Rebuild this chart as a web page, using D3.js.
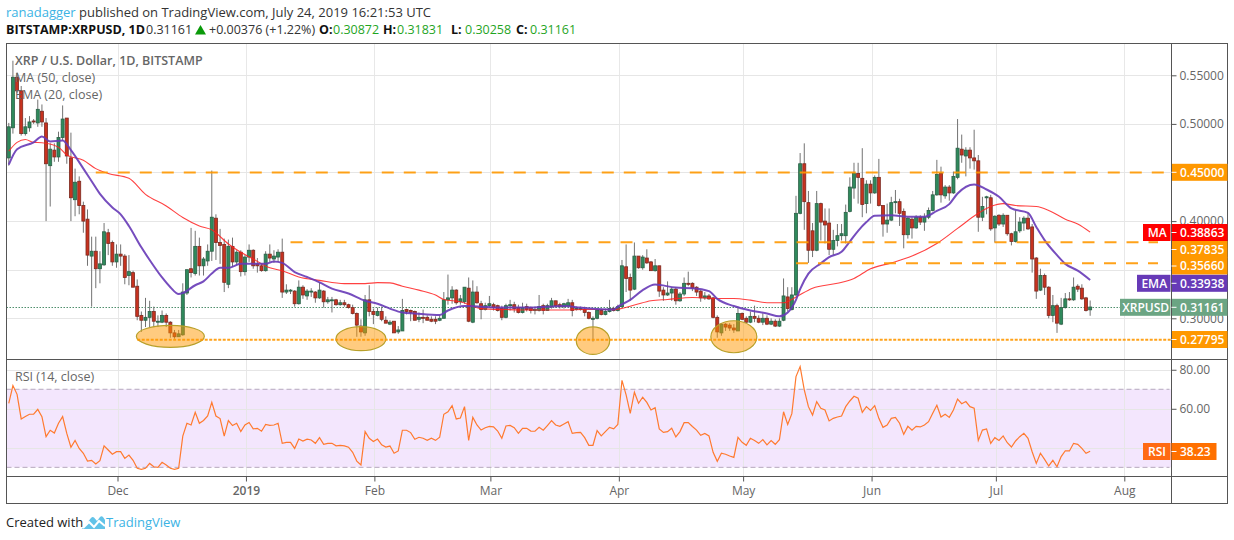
<!DOCTYPE html>
<html><head><meta charset="utf-8">
<script src="https://cdn.jsdelivr.net/npm/d3@7"></script>
<style>html,body{margin:0;padding:0;background:#fff;overflow:hidden}svg{display:block}text{font-family:"Open Sans",sans-serif}</style>
</head><body><svg id="c" width="1234" height="540"></svg>
<script>
// Daily candles from 5 Nov 2018, prices in thousandths of a dollar
const firstDay = "2018-11-05";
const opens = [465,496,548,534,490,496,503,501,513,501,457,473,466,486,506,465,422,441,416,402,
364,369,351,355,388,378,358,366,364,344,347,333,303,298,301,307,297,296,303,296,
285,281,283,326,351,346,374,354,359,369,403,378,376,335,374,358,368,348,363,370,
356,354,349,366,361,363,368,327,329,328,315,332,323,328,327,321,328,317,319,319,
314,316,314,311,305,292,285,319,307,303,307,298,294,297,286,287,309,308,307,299,
301,301,299,299,298,300,319,321,329,317,317,331,296,327,315,309,313,314,313,310,
301,313,314,311,306,312,311,309,308,313,308,312,318,314,312,313,316,310,310,309,
306,300,300,308,304,307,310,308,312,353,342,330,364,352,362,358,349,354,329,324,
326,330,318,325,336,336,332,328,321,323,321,301,285,294,293,290,287,305,300,296,
302,300,296,300,294,297,292,298,322,309,324,408,459,419,390,370,418,400,398,371,
380,385,385,410,434,449,444,418,438,429,445,416,397,401,420,420,410,386,402,393,
404,399,404,411,427,449,426,435,429,445,474,467,473,465,462,404,424,424,393,406,
397,406,387,379,390,398,403,394,362,329,344,332,303,313,294,311,320,319,333,331,
321,308.72];
const highs = [501,565,553,539,506,508,505,525,520,506,480,480,492,519,506,491,454,446,420,412,
384,384,369,398,392,380,376,376,366,365,349,340,307,321,318,312,303,308,305,297,
288,288,336,350,393,390,383,363,376,452,407,392,382,381,383,370,370,365,376,371,
362,356,369,376,370,371,382,335,330,329,339,334,330,331,328,337,329,322,322,320,
319,319,315,314,306,299,324,334,310,311,312,302,298,297,292,320,310,309,308,306,
309,303,302,302,303,327,345,333,330,324,332,342,339,333,318,316,323,316,314,313,
315,319,317,314,316,315,312,312,324,315,315,321,318,316,316,320,319,312,312,312,
307,302,310,310,310,319,312,314,360,376,346,378,364,365,371,359,361,354,332,338,
332,332,327,342,348,337,333,329,327,325,322,303,295,295,295,294,312,306,302,307,
313,303,305,303,300,299,300,341,332,332,426,470,480,431,398,431,419,413,413,391,
397,397,417,445,460,460,475,442,442,447,464,416,418,425,432,423,413,404,404,406,
406,408,414,431,463,456,437,437,451,505,489,476,476,494,468,425,426,427,406,407,
408,406,388,411,404,405,408,397,363,351,346,333,324,315,321,326,327,342,335,335,
322,318.31];
const lows = [457,490,532,488,488,492,500,497,497,400,415,461,461,483,459,400,405,407,388,354,
312,331,336,354,365,354,352,354,335,334,332,298,286,291,291,291,291,295,291,280,
279,281,282,324,342,344,344,344,354,359,360,356,327,331,353,355,343,344,358,351,
347,348,348,358,357,358,321,325,325,312,314,320,319,322,316,320,311,315,306,313,
313,312,310,304,281,281,282,302,294,302,297,295,293,285,284,287,304,297,298,296,
295,298,296,294,297,300,314,315,314,314,315,296,295,315,299,308,311,308,307,298,
300,308,306,305,305,307,305,304,307,304,308,310,311,310,310,312,302,308,308,302,
299,276,299,303,303,306,307,307,312,327,318,329,351,350,356,349,348,322,318,323,
318,314,317,323,333,328,323,317,319,319,300,280,282,287,287,285,287,298,295,295,
296,295,293,293,293,291,291,297,307,308,323,407,391,357,363,369,380,377,365,365,
374,380,377,409,423,418,404,408,418,428,415,384,388,400,408,395,372,382,382,392,
396,390,402,410,426,419,423,421,428,443,460,446,454,453,389,400,407,390,378,395,
394,385,375,378,388,390,391,347,320,328,324,300,296,285,293,310,318,318,327,319,
307,302.58];
const closes = [497,548,534,490,497,502,502,515,502,459,474,466,486,505,467,424,440,416,400,365,
369,351,356,389,377,358,366,364,342,348,332,302,298,301,307,297,297,303,296,285,
281,284,327,350,347,374,354,361,369,404,378,375,337,374,358,368,348,363,370,354,
354,349,366,362,364,368,327,329,329,315,332,324,328,328,321,329,317,319,319,314,
316,314,311,305,293,286,319,307,304,307,299,295,296,285,288,308,307,306,298,301,
300,298,297,297,300,319,321,329,316,320,332,297,327,316,309,313,315,311,308,301,
313,314,310,306,311,309,308,309,312,308,313,318,313,312,315,316,308,310,310,306,
300,300,308,304,307,310,308,312,354,341,329,364,352,363,357,349,354,328,324,326,
330,318,325,336,335,331,327,321,323,320,301,286,294,291,290,288,305,299,296,302,
300,296,300,294,297,292,297,323,310,324,408,459,420,370,370,418,399,396,371,380,
385,387,409,435,449,445,417,438,429,445,416,397,401,419,420,408,386,403,393,404,
399,404,411,427,448,427,435,429,446,475,468,473,465,462,404,415,425,392,405,397,
406,387,379,389,399,403,392,361,328,344,332,303,313,295,311,320,319,332,330,320,
308,311.61];

// Moving averages read at chosen candles
const emaDays = [0,2,6,8,10,13,15,18,20,22,25,27,29,32,34,37,39,41,42,45,47,49,51,53,56,59,62,64,66,69,72,75,78,82,86,89,92,95,98,104,106,110,114,118,126,134,138,146,147,150,153,156,161,165,169,171,175,179,183,186,188,190,191,193,196,198,201,203,205,207,209,213,217,221,224,227,229,233,236,239,242,246,248,250,253,255,258,261];
const emaVals = [458,474,481,487,482,483,473,454,441,428,414,407,395,373,360,342,332,325,326,334,338,346,352,352,356,356,356,358.5,357,347.6,342.5,337,330.6,325.5,318,315,310,306,305,303.4,308,312.6,312,311,311,312.6,311,309,312,319,329,334.7,331.6,331,328,320,312.6,308,305,302,306,319,330,346,356.5,363,368.5,379,390,399,405.5,406,404.5,404.5,410.6,417.5,428.4,437.7,432.5,425,413,408.5,394,380.5,365,356,349,339.38];
const maDays = [0,2,4,6,8,12,14,18,21,24,29,33,38,42,46,49,53,56,59,63,66,70,75,81,86,89,92,95,99,103,105,109,114,120,126,134,139,146,151,155,159,165,171,175,179,183,187,190,194,200,204,208,213,218,224,229,234,237,240,243,248,251,255,258,261];
const maVals = [472,481,484,481,480.6,476,468,462.6,454,449,444,427.5,415.6,403.7,395,391,376.5,368,361,352,349,342.5,339,335.7,335.7,336.7,336.4,333,329,324,319.4,317,310,309,308.5,308.5,309,309,313.6,318,319.4,321.4,320.4,320.4,318.7,316,316,322,331,336,341,351,357,364,377,392.5,408,415,418,416,415,411,402,397,388.63];

// RSI (14, close), one reading per candle
const rsiVals = [62.8,71.9,67.4,54.8,56,57.2,57.2,59.7,56,45.7,49,47.6,52.6,56,47.4,40.3,43.8,39.7,37.2,33.2,
33.6,31.7,33.4,41,38.9,36.7,38,38,34.6,36.3,33.6,29.5,29,29.5,32,30.3,30,32.6,31.2,29.5,
29,29.5,46,52.6,51.7,58.2,52.6,54,56.3,63.3,56.3,55,46,54,51.4,52.6,48.3,51.7,53,49.7,
50,48.5,52,51.5,51.7,52.6,42.3,42.8,42.8,39.7,44.5,43.5,44.4,44,42.3,45.2,41.8,42.3,42.3,41,
41.3,41,40.3,37.7,33.2,31.2,48.3,44.9,43.2,44.5,41.5,40.4,40.9,37.2,38.4,49,49,47.8,44.4,45.4,
44.9,43.8,44.9,43.8,45.4,57.2,58.5,61.6,54.8,55.3,61.1,43.8,55.6,51.7,49.1,50.3,51,50.7,48.6,44.9,
51.2,51.5,50.3,47.4,50,50,48.6,48.5,50.5,49,51.4,53.9,51.7,51,52.2,53.4,47.4,47.8,47.9,45.2,
41.3,41.3,48.8,46.1,48.3,50.5,49.7,52,74.6,67.1,57.7,68.5,62.8,65.9,63.3,59.4,60.6,49.7,47.9,48.3,
50,45.6,48.3,52.9,52.9,50.9,49.1,46.4,47.4,46.1,37.7,33.1,37.2,36.7,35.8,35.1,45.4,42.8,41.3,44.9,
43.8,42.3,44.2,41.5,43.7,41.8,44.2,58.5,52,57.5,76.5,81.6,69.7,61.1,56.8,63.7,60.3,59.4,53.8,55.1,
55.8,56.3,61.1,64,66.4,65.4,58.2,61.1,59.2,61.6,55.1,50.5,51.7,55.1,55.6,52.6,46.9,51,49,51,
50.7,51.7,53.4,57.7,61.8,55.8,57.2,55.6,59.4,65,62.6,63.7,61.1,60.3,43.8,49.1,49.7,42.3,45.2,43.8,
46.1,42.6,40.4,43.5,45.7,47.4,44.9,38,32,37.2,34.1,30.7,33.6,30.3,35.5,38.5,38.4,42.3,41.8,39.7,
37.2,38.23];

// Horizontal levels drawn on the chart
const levelVals = [0.45,0.37835,0.3566,0.27795];
const levelLabels = ["0.45000","0.37835","0.35660","0.27795"];
const levelStartDays = [21,68,190,31];
// Highlighted lows (candle, price)
const markDays = [39,85,141,175];
const markPrices = [0.2815,0.2790,0.2770,0.2810];

const priceTicks = [0.55,0.5,0.45,0.4,0.35,0.3];
const rsiTicks = [80,60];
const monthTicks = ["2018-12-01","2019-01-01","2019-02-01","2019-03-01","2019-04-01","2019-05-01","2019-06-01","2019-07-01","2019-08-01"];
const monthLabels = ["Dec","2019","Feb","Mar","Apr","May","Jun","Jul","Aug"];

const svg = d3.select("#c");
const L=6.5,R=1171.5,FR=1227.5,T=43.5,PB=359.5,RB=476.5,FB=503.5;
const x = d3.scaleUtc().domain([new Date("2018-12-01"),new Date("2019-08-01")]).range([116.5,1123.3]);
const y = d3.scaleLinear().domain([0.2571,0.5822]).range([360,44]);
const yr = d3.scaleLinear().domain([25.2,85]).range([476.7,360]);
const day = i => new Date(Date.parse(firstDay)+i*864e5);
const xi = i => x(day(i));
const GRID="#e6e6e6", AX="#555", TXT="#666";

const defs = svg.append("defs");
defs.append("clipPath").attr("id","cp").append("rect").attr("x",L).attr("y",T).attr("width",R-L).attr("height",PB-T);
defs.append("clipPath").attr("id","cr").append("rect").attr("x",L).attr("y",PB).attr("width",R-L).attr("height",RB-PB);

// header
const t1 = svg.append("text").attr("x",6).attr("y",17).attr("font-size",13);
t1.append("tspan").attr("fill","#3bb3e4").text("ranadagger");
t1.append("tspan").attr("fill","#333").text(" published on TradingView.com, July 24, 2019 16:21:53 UTC");
const HG="#1fa51f";
const hdr = (xp,s,fill,w)=>svg.append("text").attr("x",xp).attr("y",34).attr("font-size",12.5).attr("fill",fill).attr("font-weight",w||400).text(s);
hdr(6,"BITSTAMP:XRPUSD, 1D","#111",700);
hdr(146,"0.31161","#333");
svg.append("path").attr("d","M195 34.5L200.5 25L206 34.5Z").attr("fill","#0a9a0a");
hdr(209,"+0.00376 (+1.22%)","#333");
[[319,"O:","0.30872"],[383,"H:","0.31831"],[451,"L:","0.30258"],[516,"C:","0.31161"]].forEach(d=>{
  hdr(d[0],d[1],"#111",700); hdr(d[0]+14,d[2],HG);
});

// grids
const g = svg.append("g");
const hgrid=(vals,sc)=>g.selectAll(null).data(vals).enter().append("line").attr("x1",L).attr("x2",R).attr("y1",d=>Math.round(sc(d))+.5).attr("y2",d=>Math.round(sc(d))+.5).attr("stroke",GRID).attr("stroke-width",1);
hgrid(priceTicks,y);
// RSI band
g.append("rect").attr("x",L).attr("width",R-L).attr("y",yr(70)).attr("height",yr(30)-yr(70)).attr("fill","#f3e6fd");
hgrid(rsiTicks.concat([40]),yr);
g.selectAll(null).data(monthTicks).enter().append("line").attr("x1",d=>Math.round(x(new Date(d))+1)+.5).attr("x2",d=>Math.round(x(new Date(d))+1)+.5).attr("y1",T).attr("y2",RB).attr("stroke",GRID).attr("stroke-opacity",.9);
g.selectAll(null).data([70,30]).enter().append("line").attr("x1",L).attr("x2",R-2).attr("y1",d=>yr(d)).attr("y2",d=>yr(d)).attr("stroke","#b5a8bd").attr("stroke-width",1).attr("stroke-dasharray","5 3");

// last price dotted
const last = closes[closes.length-1]/1000;
svg.append("line").attr("x1",L).attr("x2",1120).attr("y1",Math.round(y(last))+.5).attr("y2",Math.round(y(last))+.5).attr("stroke","#4f8f6d").attr("stroke-dasharray","1.5 1.5");

// candles
const pane = svg.append("g").attr("clip-path","url(#cp)");
const idx = d3.range(closes.length);
pane.selectAll(".w").data(idx).enter().append("line").attr("x1",xi).attr("x2",xi).attr("y1",i=>y(highs[i]/1000)).attr("y2",i=>y(lows[i]/1000)).attr("stroke","#737373").attr("stroke-width",1);
pane.selectAll(".b").data(idx).enter().append("rect")
 .attr("x",i=>xi(i)-1.5).attr("width",3)
 .attr("y",i=>y(Math.max(opens[i],closes[i])/1000))
 .attr("height",i=>Math.max(1,Math.abs(y(opens[i]/1000)-y(closes[i]/1000))))
 .attr("fill",i=>closes[i]>=opens[i]?"#2f8a5c":"#c8321f")
 .attr("stroke",i=>closes[i]>=opens[i]?"#2a5f46":"#7a2a20").attr("stroke-width",.8);

// MA / EMA
const line = d3.line().curve(d3.curveMonotoneX);
pane.append("path").attr("d",line(maDays.map((d,i)=>[xi(d),y(maVals[i]/1000)]))).attr("fill","none").attr("stroke","#ff2020").attr("stroke-opacity",.85).attr("stroke-width",1.1);
pane.append("path").attr("d",line(emaDays.map((d,i)=>[xi(d),y(emaVals[i]/1000)]))).attr("fill","none").attr("stroke","#673ab7").attr("stroke-opacity",.9).attr("stroke-width",2);

// ellipses
const ellipseRx=[34,25,16.7,23], ellipseRy=[11,12,13.7,16];
pane.selectAll(".e").data(markDays).enter().append("ellipse")
 .attr("cx",d=>xi(d)).attr("cy",(d,i)=>y(markPrices[i])).attr("rx",(d,i)=>ellipseRx[i]).attr("ry",(d,i)=>ellipseRy[i])
 .attr("fill","#ff9800").attr("fill-opacity",.5).attr("stroke","#b8a02a").attr("stroke-width",1.2);

// levels
levelVals.forEach((v,i)=>{
  const end = i==1||i==2 ? 1158 : R;
  pane.append("line").attr("x1",xi(levelStartDays[i])).attr("x2",end).attr("y1",y(v)).attr("y2",y(v))
   .attr("stroke","#ff9800").attr("stroke-opacity",.9).attr("stroke-width",2).attr("stroke-dasharray",i==3?"3 1.5":"12 10");
});

// RSI line
svg.append("g").attr("clip-path","url(#cr)").append("path")
 .attr("d",d3.line()(rsiVals.map((v,i)=>[xi(i),yr(v)]))).attr("fill","none").attr("stroke","#ff7a2f").attr("stroke-width",1.2);

// frames
const fr=(x1,y1,x2,y2)=>svg.append("line").attr("x1",x1).attr("y1",y1).attr("x2",x2).attr("y2",y2).attr("stroke",AX).attr("stroke-width",1);
svg.append("rect").attr("x",L).attr("y",T).attr("width",FR-L).attr("height",FB-T).attr("fill","none").attr("stroke",AX);
fr(L,PB,FR,PB); fr(L,RB,FR,RB); fr(R,T,R,FB);

// axes
const styleAxis = s=>{s.select(".domain").remove();s.selectAll("line").attr("stroke",AX);s.selectAll("text").attr("fill",TXT).attr("font-size",12).style("font-family","'Open Sans',sans-serif");};
svg.append("g").attr("transform",`translate(${R},0)`).call(d3.axisRight(y).tickValues(priceTicks).tickFormat(d3.format(".5f")).tickSize(5).tickPadding(3)).call(styleAxis);
svg.append("g").attr("transform",`translate(${R},0)`).call(d3.axisRight(yr).tickValues(rsiTicks).tickFormat(d3.format(".2f")).tickSize(5).tickPadding(3)).call(styleAxis);
const xAxis = d3.axisBottom(d3.scaleUtc().domain(x.domain()).range([117.5,1124.3])).tickValues(monthTicks.map(d=>new Date(d))).tickFormat((d,i)=>monthLabels[i]).tickSize(5).tickPadding(5);
svg.append("g").attr("transform",`translate(0,${RB})`).call(xAxis).call(styleAxis).selectAll("text").attr("font-weight",(d,i)=>i==1?600:400);

// pane labels
const lab=(s,yy,w,sz)=>svg.append("text").attr("x",15).attr("y",yy).attr("font-size",sz||12.5).attr("font-weight",w||400).attr("fill",TXT).text(s);
lab("XRP / U.S. Dollar, 1D, BITSTAMP",65,600);
lab("MA (50, close)",82);
lab("EMA (20, close)",99);
lab("RSI (14, close)",381);

// price tags
const tag=(cy,val,color,name,left,lcol)=>{
  const h=17;
  svg.append("rect").attr("x",R+.5).attr("y",cy-h/2).attr("width",FR-R-.5).attr("height",h).attr("fill",color);
  svg.append("line").attr("x1",R).attr("x2",R+5).attr("y1",cy).attr("y2",cy).attr("stroke","#fff");
  svg.append("text").attr("x",1180).attr("y",cy+4.3).attr("font-size",12).attr("font-weight",600).attr("fill","#fff").text(val);
  if(name){
    svg.append("rect").attr("x",left).attr("y",cy-h/2).attr("width",R-left-1).attr("height",h).attr("fill",lcol||color);
    svg.append("text").attr("x",(left+R)/2).attr("y",cy+4.3).attr("text-anchor","middle").attr("font-size",12).attr("font-weight",600).attr("fill","#fff").text(name);
  }
};
const OR="#ff9800";
tag(172.3,levelLabels[0],OR);
tag(249.5,levelLabels[1],OR);
tag(266,levelLabels[2],OR);
tag(232.5,"0.38863","#ff0000","MA",1143);
tag(283.3,"0.33938","#673ab7","EMA",1137);
tag(307.3,"0.31161","#6ba583","XRPUSD",1120);
tag(339.5,levelLabels[3],OR);
// RSI tag
svg.append("rect").attr("x",1171.5).attr("y",443).attr("width",45).attr("height",17).attr("fill","#ff7000");
svg.append("rect").attr("x",1143).attr("y",443).attr("width",27.5).attr("height",17).attr("fill","#ff6a13");
svg.append("line").attr("x1",R).attr("x2",R+5).attr("y1",451.5).attr("y2",451.5).attr("stroke","#fff");
svg.append("text").attr("x",1180).attr("y",455.8).attr("font-size",12).attr("font-weight",600).attr("fill","#fff").text("38.23");
svg.append("text").attr("x",1157).attr("y",455.8).attr("text-anchor","middle").attr("font-size",12).attr("font-weight",600).attr("fill","#fff").text("RSI");

// footer
svg.append("text").attr("x",6).attr("y",527).attr("font-size",13).attr("fill","#222").text("Created with");
const logo=svg.append("g").attr("transform","translate(82,515)");
logo.append("path").attr("d","M0 14L9 3Q10.5 1.5 12 2.5L15 6L18 2Q19.5 0.5 21 2L23 5V14Z").attr("fill","#62c3e8");
logo.append("path").attr("d","M1 13L7 7L12 12L17 6L23 11").attr("fill","none").attr("stroke","#fff").attr("stroke-width",2);
svg.append("text").attr("x",106).attr("y",527).attr("font-size",13).attr("fill","#3bb3e4").text("TradingView");
</script></body></html>
